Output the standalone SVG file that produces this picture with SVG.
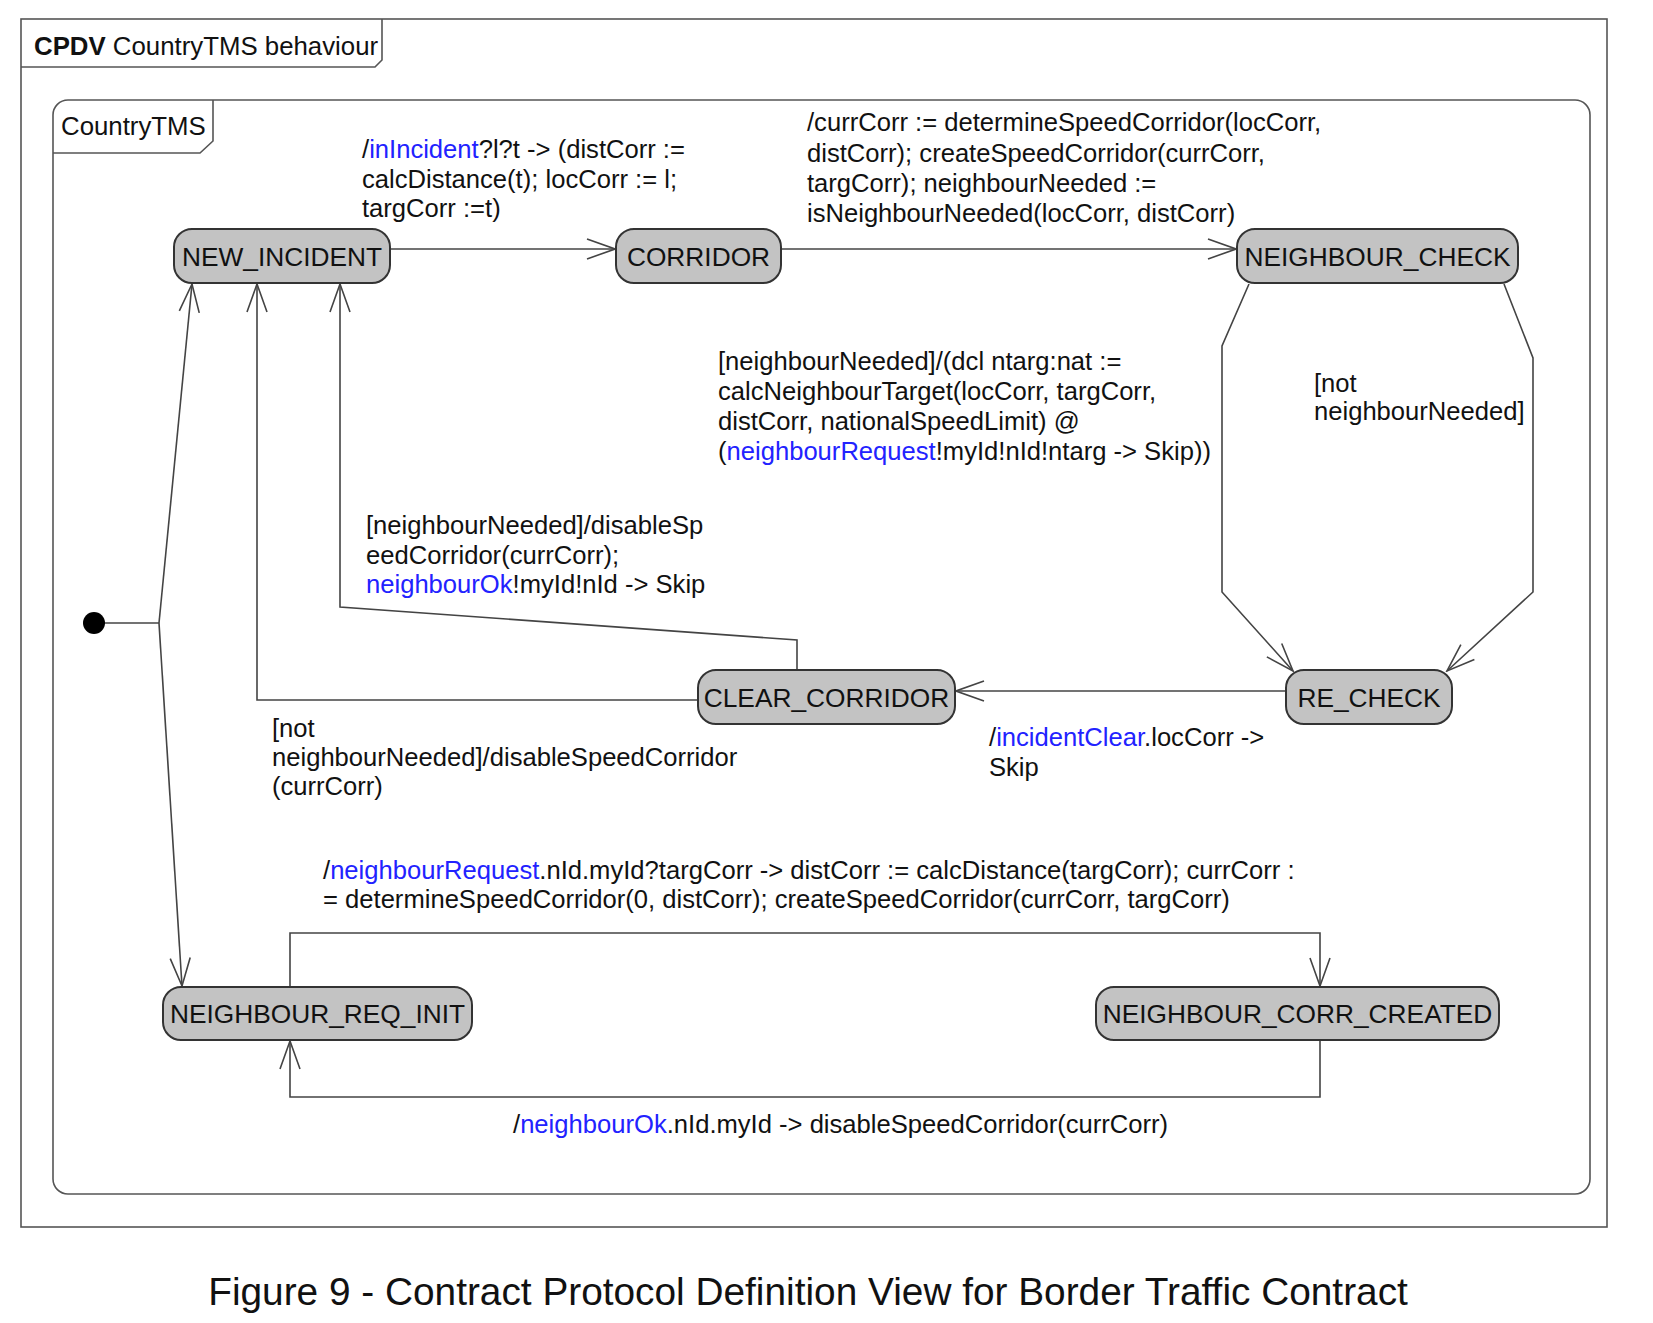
<svg xmlns="http://www.w3.org/2000/svg" width="1653" height="1323" viewBox="0 0 1653 1323">
<style>
text { font-family: "Liberation Sans", Arial, sans-serif; fill: #111; }
.frame { fill: none; stroke: #555; stroke-width: 1.6; }
.node rect { fill: #c3c3c3; stroke: #333; stroke-width: 2; }
.node text { font-size: 26.3px; text-anchor: middle; }
.lbl { font-size: 25.6px; }
.ev { fill: #2222ff; }
.conn { fill: none; stroke: #444; stroke-width: 1.6; marker-end: url(#arr); }
.plain { fill: none; stroke: #444; stroke-width: 1.6; }
</style>
<defs>
<marker id="arr" markerUnits="userSpaceOnUse" viewBox="-30 -12 32 24" markerWidth="32" markerHeight="24" refX="0" refY="0" orient="auto">
<path d="M-28,-10 L0,0 L-28,10" fill="none" stroke="#444" stroke-width="1.6"/>
</marker>
</defs>
<rect width="1653" height="1323" fill="#fff"/>

<g id="outer-frame">
<rect class="frame" x="21" y="19" width="1586" height="1208"/>
<path class="frame" d="M21,67 H375 L382,60 V19"/>
<text x="34" y="55" style="font-size:25.8px"><tspan font-weight="bold">CPDV</tspan> CountryTMS behaviour</text>
</g>

<g id="inner-frame">
<rect class="frame" x="53" y="100" width="1537" height="1094" rx="15"/>
<path class="frame" d="M53,153 H200 L213,141 V100"/>
<text x="61" y="135" style="font-size:25.8px">CountryTMS</text>
</g>

<g id="connectors">
<line class="plain" x1="94" y1="623" x2="159" y2="623"/>
<path class="conn" d="M159,623 L192,284"/>
<path class="conn" d="M159,623 L182,986"/>
<path class="conn" d="M390,249 H615"/>
<path class="conn" d="M781,249 H1236"/>
<path class="conn" d="M1249,284 L1222,346 V592 L1293,671"/>
<path class="conn" d="M1504,284 L1533,358 V592 L1447,671"/>
<path class="conn" d="M1286,691 H956"/>
<path class="conn" d="M698,700 H257 V284"/>
<path class="conn" d="M797,670 V640 L340,607 V284"/>
<path class="conn" d="M290,987 V933 H1320 V986"/>
<path class="conn" d="M1320,1040 V1097 H290 V1041"/>
</g>

<g id="initial">
<circle cx="94" cy="623" r="11" fill="#000"/>
</g>

<g id="NEW_INCIDENT" class="node">
<rect x="174" y="229" width="216" height="54" rx="18"/>
<text x="282" y="265.5">NEW_INCIDENT</text>
</g>
<g id="CORRIDOR" class="node">
<rect x="616" y="229" width="165" height="54" rx="18"/>
<text x="698.5" y="265.5">CORRIDOR</text>
</g>
<g id="NEIGHBOUR_CHECK" class="node">
<rect x="1237" y="229" width="281" height="54" rx="18"/>
<text x="1377.5" y="265.5">NEIGHBOUR_CHECK</text>
</g>
<g id="CLEAR_CORRIDOR" class="node">
<rect x="698" y="670" width="257" height="54" rx="18"/>
<text x="826.5" y="706.5">CLEAR_CORRIDOR</text>
</g>
<g id="RE_CHECK" class="node">
<rect x="1286" y="670" width="166" height="54" rx="18"/>
<text x="1369" y="706.5">RE_CHECK</text>
</g>
<g id="NEIGHBOUR_REQ_INIT" class="node">
<rect x="163" y="987" width="309" height="53" rx="18"/>
<text x="317.5" y="1023">NEIGHBOUR_REQ_INIT</text>
</g>
<g id="NEIGHBOUR_CORR_CREATED" class="node">
<rect x="1096" y="987" width="403" height="53" rx="18"/>
<text x="1297.5" y="1023">NEIGHBOUR_CORR_CREATED</text>
</g>

<g id="labels">
<text class="lbl"><tspan x="362" y="158">/<tspan class="ev">inIncident</tspan>?l?t -&gt; (distCorr :=</tspan><tspan x="362" y="187.5">calcDistance(t); locCorr := l;</tspan><tspan x="362" y="217">targCorr :=t)</tspan></text>
<text class="lbl"><tspan x="807" y="131">/currCorr := determineSpeedCorridor(locCorr,</tspan><tspan x="807" y="161.5">distCorr); createSpeedCorridor(currCorr,</tspan><tspan x="807" y="192">targCorr); neighbourNeeded :=</tspan><tspan x="807" y="222">isNeighbourNeeded(locCorr, distCorr)</tspan></text>
<text class="lbl"><tspan x="718" y="370">[neighbourNeeded]/(dcl ntarg:nat :=</tspan><tspan x="718" y="400">calcNeighbourTarget(locCorr, targCorr,</tspan><tspan x="718" y="430">distCorr, nationalSpeedLimit) @</tspan><tspan x="718" y="460">(<tspan class="ev">neighbourRequest</tspan>!myId!nId!ntarg -&gt; Skip))</tspan></text>
<text class="lbl"><tspan x="1314" y="392">[not</tspan><tspan x="1314" y="420">neighbourNeeded]</tspan></text>
<text class="lbl"><tspan x="366" y="534">[neighbourNeeded]/disableSp</tspan><tspan x="366" y="564">eedCorridor(currCorr);</tspan><tspan x="366" y="593"><tspan class="ev">neighbourOk</tspan>!myId!nId -&gt; Skip</tspan></text>
<text class="lbl"><tspan x="272" y="737">[not</tspan><tspan x="272" y="766">neighbourNeeded]/disableSpeedCorridor</tspan><tspan x="272" y="795">(currCorr)</tspan></text>
<text class="lbl"><tspan x="989" y="746">/<tspan class="ev">incidentClear</tspan>.locCorr -&gt;</tspan><tspan x="989" y="776">Skip</tspan></text>
<text class="lbl"><tspan x="323" y="879">/<tspan class="ev">neighbourRequest</tspan>.nId.myId?targCorr -&gt; distCorr := calcDistance(targCorr); currCorr :</tspan><tspan x="323" y="907.5">= determineSpeedCorridor(0, distCorr); createSpeedCorridor(currCorr, targCorr)</tspan></text>
<text class="lbl" x="513" y="1133">/<tspan class="ev">neighbourOk</tspan>.nId.myId -&gt; disableSpeedCorridor(currCorr)</text>
</g>

<text x="808" y="1305" text-anchor="middle" style="font-size:38.8px">Figure 9 - Contract Protocol Definition View for Border Traffic Contract</text>
</svg>
